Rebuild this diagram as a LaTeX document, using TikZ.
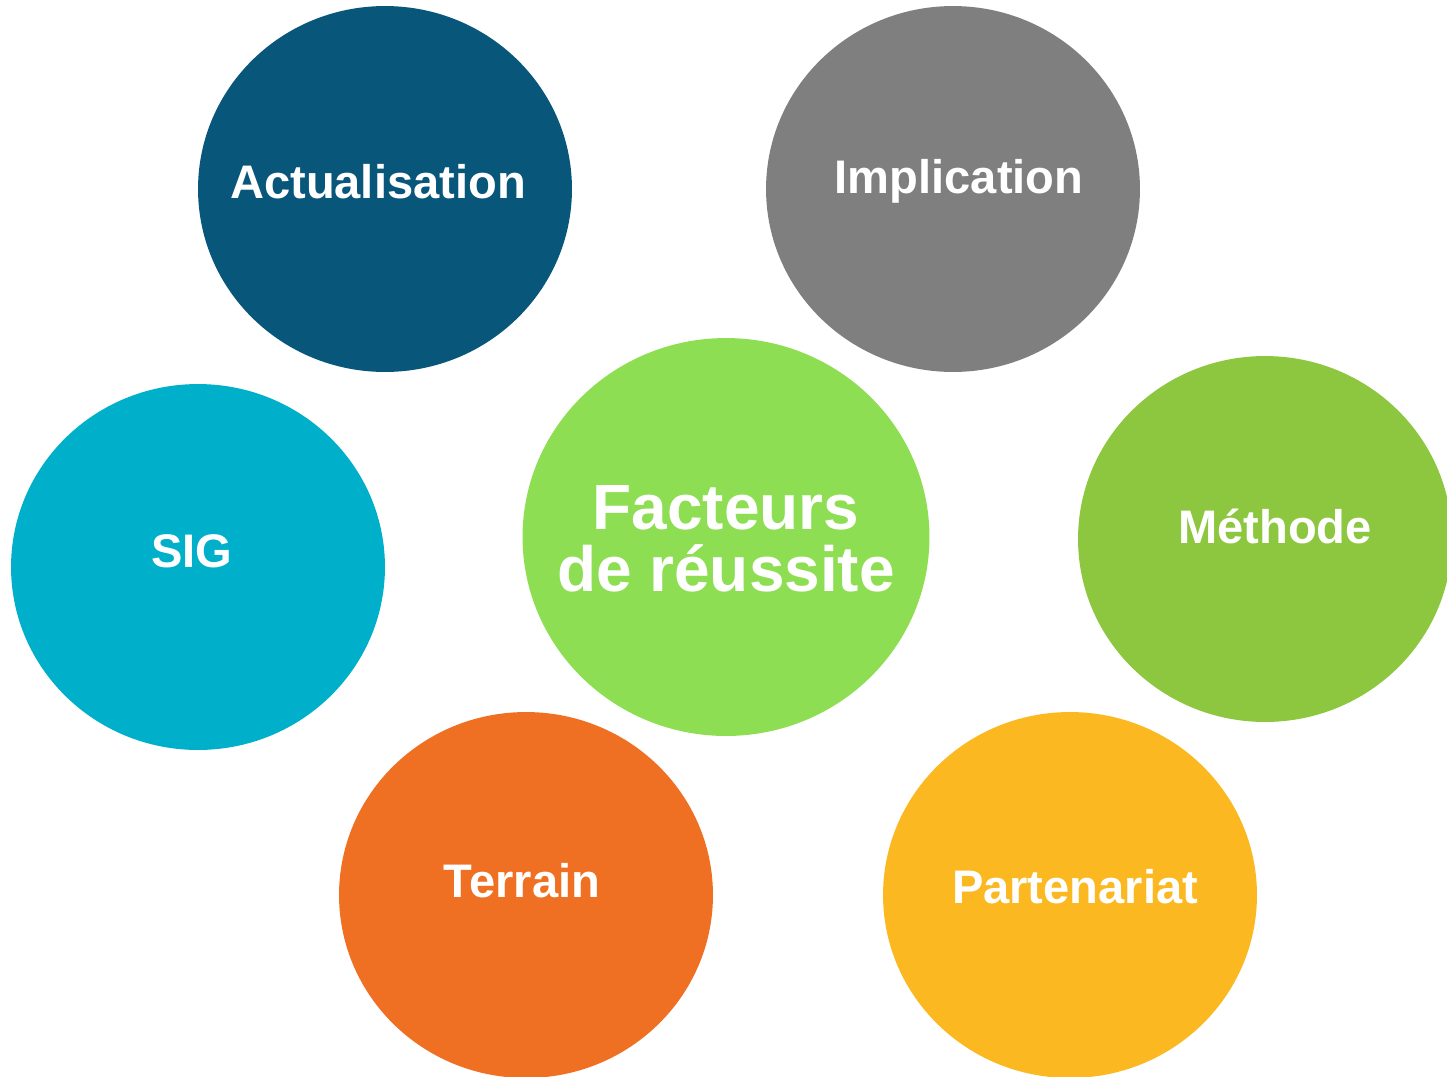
\documentclass[tikz,border=0pt]{standalone}
\usepackage{fontspec}
\setmainfont{Liberation Sans}
\usetikzlibrary{shapes.geometric}
\definecolor{DeepBlue}{HTML}{08567A}
\definecolor{MidGray}{HTML}{7F7F7F}
\definecolor{Cyan}{HTML}{00B0CA}
\definecolor{LightGreen}{HTML}{8DDE52}
\definecolor{Grass}{HTML}{8DC63F}
\definecolor{Orange}{HTML}{F07023}
\definecolor{Amber}{HTML}{FBB821}
\tikzset{
  bubble/.style={ellipse,fill=#1,draw=none,minimum width=7.48cm,minimum height=7.32cm,inner sep=0pt},
  bigbubble/.style={ellipse,fill=#1,draw=none,minimum width=8.14cm,minimum height=7.96cm,inner sep=0pt},
  word/.style={anchor=base,inner sep=0pt,text=white,font=\bfseries\fontsize{26.8}{30}\selectfont},
  bigword/.style={anchor=base,inner sep=0pt,text=white,font=\bfseries\fontsize{36.4}{35}\selectfont}
}
\begin{document}
\begin{tikzpicture}[x=0.02cm,y=-0.02cm]
\useasboundingbox (0,0) rectangle (1447,1076);
% bubbles
\node[bubble=DeepBlue] (act) at (385,189) {};
\node[bubble=MidGray] (impl) at (953,189) {};
\node[bubble=Cyan] (sig) at (198,567) {};
\node[bubble=Grass] (meth) at (1265,539) {};
\node[bubble=Orange] (terr) at (526,895) {};
\node[bubble=Amber] (part) at (1070,895) {};
\node[bigbubble=LightGreen] (fact) at (726,537) {};
% labels
\node[word] (actlbl) at (378,198) {Actualisation};
\node[word] (impllbl) at (959,193) {Implication};
\node[word] (siglbl) at (192,567) {SIG};
\node[word] (methlbl) at (1275,543) {Méthode};
\node[word] (terrlbl) at (522,897) {Terrain};
\node[word] (partlbl) at (1075,903) {Partenariat};
\node[bigword] (factlbl) at (726,529) {Facteurs};
\node[bigword] (reuslbl) at (726,591) {de réussite};
\end{tikzpicture}
\end{document}
